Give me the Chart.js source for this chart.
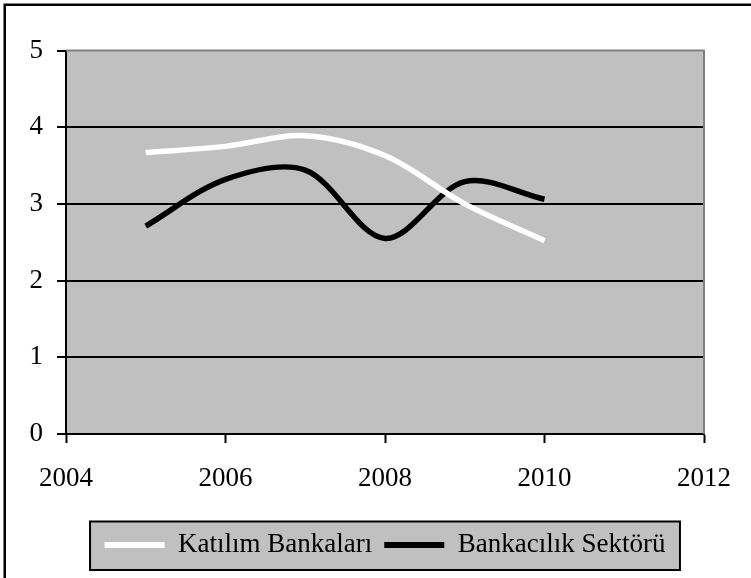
<!DOCTYPE html>
<html>
<head>
<meta charset="utf-8">
<script src="https://cdn.jsdelivr.net/npm/chart.js@4/dist/chart.umd.min.js"></script>
<style>
  html, body { margin: 0; padding: 0; background: #ffffff; }
  #wrap { position: relative; width: 751px; height: 578px; }
</style>
</head>
<body>
<div id="wrap"><canvas id="c" width="751" height="578"></canvas></div>
<script>
// Yearly series
const years = [2005, 2006, 2007, 2008, 2009, 2010];
const katilimBankalari = [3.67, 3.75, 3.89, 3.63, 3.00, 2.52];
const bankacilikSektoru = [2.71, 3.32, 3.44, 2.55, 3.29, 3.06];
const seriesNames = ['Katılım Bankaları', 'Bankacılık Sektörü'];
const xTickValues = [2004, 2006, 2008, 2010, 2012];
const yTickValues = [0, 1, 2, 3, 4, 5];

const FONT = { family: '"Liberation Serif", "Times New Roman", serif', size: 27 };

const toPoints = (xs, ys) => xs.map((x, i) => ({ x: x, y: ys[i] }));

// Plot-area fill, gray frame, legend panel and outer frame
const framePlugin = {
  id: 'frames',
  beforeDraw(chart) {
    const { ctx, chartArea: a } = chart;
    ctx.save();
    ctx.fillStyle = '#ffffff';
    ctx.fillRect(0, 0, chart.width, chart.height);
    ctx.fillStyle = '#C0C0C0';
    ctx.fillRect(a.left, a.top, a.right - a.left, a.bottom - a.top);
    // legend panel
    const lg = chart.legend;
    if (lg && lg.legendHitBoxes && lg.legendHitBoxes.length) {
      const hb = lg.legendHitBoxes;
      const l = hb[0].left - 14.5;
      const last = hb[hb.length - 1];
      const r = last.left + last.width + 14.5;
      const t = hb[0].top - 10;
      const b = hb[0].top + hb[0].height + 11.5;
      ctx.fillStyle = '#C0C0C0';
      ctx.fillRect(l, t, r - l, b - t);
      ctx.strokeStyle = '#000000';
      ctx.lineWidth = 2;
      ctx.strokeRect(l, t, r - l, b - t);
    }
    ctx.restore();
  },
  beforeDatasetsDraw(chart) {
    const { ctx, chartArea: a } = chart;
    ctx.save();
    ctx.strokeStyle = '#808080';
    ctx.lineWidth = 2;
    ctx.beginPath();
    ctx.moveTo(a.left, a.top);
    ctx.lineTo(a.right, a.top);
    ctx.lineTo(a.right, a.bottom);
    ctx.stroke();
    ctx.restore();
  },
  afterDraw(chart) {
    const { ctx } = chart;
    ctx.save();
    ctx.strokeStyle = '#000000';
    ctx.lineWidth = 2.5;
    ctx.strokeRect(4.75, 4.75, 770, 600);
    ctx.restore();
  }
};

new Chart(document.getElementById('c'), {
  type: 'line',
  data: {
    datasets: [
      {
        label: seriesNames[0],
        data: toPoints(years, katilimBankalari),
        borderColor: '#FFFFFF',
        backgroundColor: '#FFFFFF',
        borderWidth: 5.5,
        borderCapStyle: 'butt',
        pointRadius: 0,
        tension: 0.33,
        fill: false
      },
      {
        label: seriesNames[1],
        data: toPoints(years, bankacilikSektoru),
        borderColor: '#000000',
        backgroundColor: '#000000',
        borderWidth: 5.5,
        borderCapStyle: 'butt',
        pointRadius: 0,
        tension: 0.33,
        fill: false
      }
    ]
  },
  options: {
    responsive: false,
    animation: false,
    devicePixelRatio: 1,
    layout: { padding: { top: 50.5, right: 45, bottom: 9.5, left: 0 } },
    plugins: {
      tooltip: { enabled: false },
      title: { display: false },
      legend: {
        display: true,
        position: 'bottom',
        fullSize: false,
        labels: {
          font: FONT,
          color: '#000000',
          boxWidth: 60,
          boxHeight: 6,
          padding: 12,
          generateLabels(chart) {
            return chart.data.datasets.map((ds, i) => ({
              text: ds.label,
              fillStyle: ds.borderColor,
              strokeStyle: 'rgba(0,0,0,0)',
              lineWidth: 0,
              fontColor: '#000000',
              hidden: false,
              datasetIndex: i
            }));
          }
        }
      }
    },
    scales: {
      x: {
        type: 'linear',
        min: 2004,
        max: 2012,
        afterBuildTicks(scale) { scale.ticks = xTickValues.map(v => ({ value: v })); },
        afterFit(scale) { scale.height = 85.5; },
        ticks: {
          font: FONT,
          color: '#000000',
          padding: 20,
          maxRotation: 0,
          callback: v => String(v)
        },
        grid: {
          drawOnChartArea: false,
          drawTicks: true,
          tickLength: 9,
          tickColor: '#000000',
          tickWidth: 2
        },
        border: { display: true, color: '#000000', width: 2 }
      },
      y: {
        type: 'linear',
        min: 0,
        max: 5,
        afterBuildTicks(scale) { scale.ticks = yTickValues.map(v => ({ value: v })); },
        afterFit(scale) { scale.width = 66; },
        ticks: {
          font: FONT,
          color: '#000000',
          padding: 14,
          callback: v => String(v)
        },
        grid: {
          drawTicks: true,
          tickLength: 9,
          lineWidth: 2,
          tickWidth: 2,
          tickColor: '#000000',
          color: ctx => (ctx.tick && ctx.tick.value === 5) ? 'rgba(0,0,0,0)' : '#000000'
        },
        border: { display: true, color: '#000000', width: 2 }
      }
    }
  },
  plugins: [framePlugin]
});
</script>
</body>
</html>
